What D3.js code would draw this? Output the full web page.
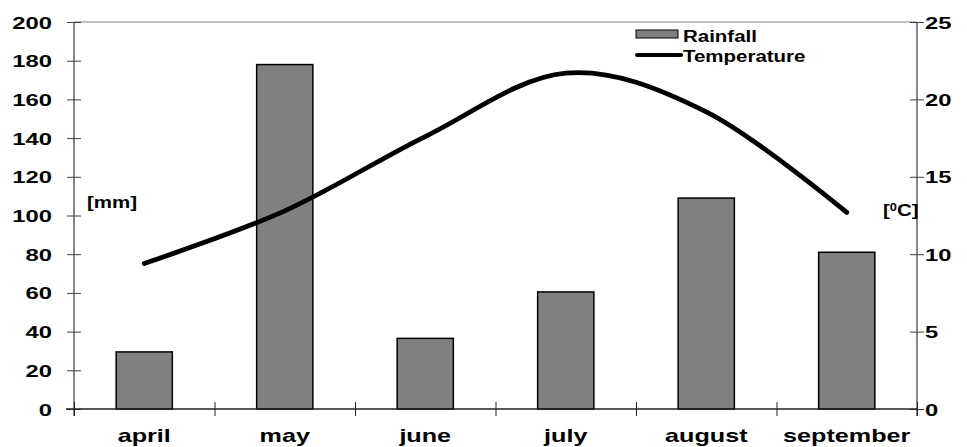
<!DOCTYPE html>
<html><head><meta charset="utf-8">
<script src="https://cdn.jsdelivr.net/npm/d3@7"></script>
<style>
html,body{margin:0;padding:0;background:#fff;}
text{font-family:"Liberation Sans",Arial,sans-serif;font-weight:bold;fill:#000;}
</style></head>
<body><svg id="c" width="967" height="447"></svg>
<script>
const months = ["april","may","june","july","august","september"];
const rainfall = [29.5, 178, 36.5, 60.5, 109, 81];
const temperature = [9.4, 12.8, 17.6, 21.7, 19.2, 12.7];
const rainTicks = [0,20,40,60,80,100,120,140,160,180,200];
const tempTicks = [0,5,10,15,20,25];

const W=967,H=447;
const L=74,R=917,T=22,B=409;
const SX=1.4;
const svg=d3.select("#c");

const x=d3.scaleBand().domain(months).range([L,R]).paddingInner(0.6).paddingOuter(0.3);
const xp=d3.scalePoint().domain(months).range([L,R]).padding(0.5);
const yL=d3.scaleLinear().domain([0,200]).range([B,T]);
const yR=d3.scaleLinear().domain([0,25]).range([B,T]);

// top border
svg.append("line").attr("x1",L).attr("x2",R).attr("y1",T).attr("y2",T).attr("stroke","#808080").attr("stroke-width",1);

// bars
svg.append("g").selectAll("rect").data(months).join("rect")
  .attr("x",d=>x(d)).attr("width",x.bandwidth())
  .attr("y",(d,i)=>yL(rainfall[i])).attr("height",(d,i)=>B-yL(rainfall[i]))
  .attr("fill","#808080").attr("stroke","#000").attr("stroke-width",1.5);

function styleText(sel, off, anchor){
  sel.selectAll("text").each(function(){
    const t=d3.select(this);
    t.attr("x",0).attr("dy",null).attr("dx",null).attr("text-anchor",anchor)
     .attr("transform",`translate(${off},6) scale(${SX},1)`)
     .style("font-size","17px").style("font-family","Liberation Sans, Arial").style("font-weight","bold").attr("fill","#000");
  });
}

// left axis
const gL=svg.append("g").attr("transform",`translate(${L},0)`)
  .call(d3.axisLeft(yL).tickValues(rainTicks).tickSize(0).tickFormat(d3.format("d")));
gL.select(".domain").attr("stroke","#606060").attr("stroke-width",1.5).attr("d",`M0,${T}V${B+7}`);
gL.selectAll(".tick line").attr("x1",-7).attr("x2",7).attr("stroke","#404040");
styleText(gL,-22,"end");

// right axis
const gR=svg.append("g").attr("transform",`translate(${R},0)`)
  .call(d3.axisRight(yR).tickValues(tempTicks).tickSize(0).tickFormat(d3.format("d")));
gR.select(".domain").attr("stroke","#606060").attr("stroke-width",1.5).attr("d",`M0,${T}V${B+7}`);
gR.selectAll(".tick line").attr("x1",-7).attr("x2",7).attr("stroke","#404040");
styleText(gR,8,"start");

// bottom axis
const xb=d3.scalePoint().domain(d3.range(7)).range([L,R]);
const gB=svg.append("g").attr("transform",`translate(0,${B})`)
  .call(d3.axisBottom(xb).tickSize(0).tickFormat(""));
gB.select(".domain").attr("stroke","#202020").attr("stroke-width",1.5).attr("d",`M${L-8},0H${R}`);
gB.selectAll(".tick line").attr("y1",-7).attr("y2",7).attr("stroke","#202020");
const gBL=svg.append("g").attr("transform",`translate(0,${B})`)
  .call(d3.axisBottom(x).tickSize(0));
gBL.select(".domain").remove();
gBL.selectAll(".tick text").each(function(){
  d3.select(this).attr("y",0).attr("dy",null).attr("text-anchor","middle")
   .attr("transform",`translate(0,33) scale(${SX},1)`)
   .style("font-size","18px").style("font-family","Liberation Sans, Arial").style("font-weight","bold").attr("fill","#000");
});

// temperature line
const line=d3.line().x((d,i)=>xp(months[i])).y(d=>yR(d)).curve(d3.curveCardinal.tension(0));
svg.append("path").datum(temperature).attr("d",line)
  .attr("fill","none").attr("stroke","#000").attr("stroke-width",4.8).attr("stroke-linecap","round");

// unit labels
const SL=1.28;
function label(txt,x0,y0,size){
  return svg.append("text").attr("transform",`translate(${x0},${y0}) scale(${SL},1)`)
    .style("font-size",size+"px").text(txt);
}
label("[mm]",87,208,16);
const tc=svg.append("text").attr("transform",`translate(883,216) scale(${SL},1)`).style("font-size","16px");
tc.append("tspan").text("[");
tc.append("tspan").attr("dy",-5).style("font-size","10px").text("0");
tc.append("tspan").attr("dy",5).text("C]");

// legend
svg.append("rect").attr("x",636).attr("y",30).attr("width",42).attr("height",8)
  .attr("fill","#808080").attr("stroke","#000").attr("stroke-width",1);
svg.append("line").attr("x1",637).attr("x2",681).attr("y1",55).attr("y2",55)
  .attr("stroke","#000").attr("stroke-width",4).attr("stroke-linecap","round");
label("Rainfall",683,42,16);
label("Temperature",683,62,16);
</script></body></html>
